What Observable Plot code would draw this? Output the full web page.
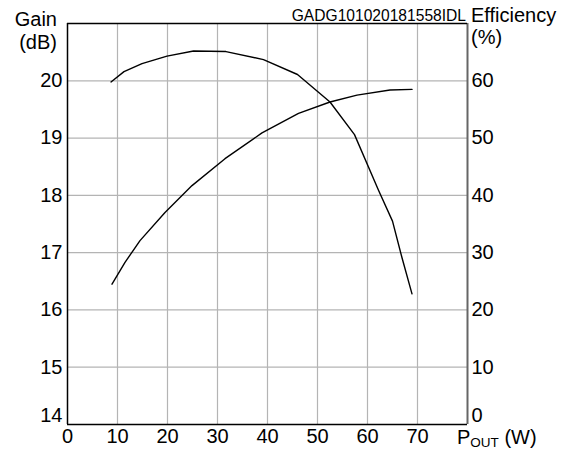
<!DOCTYPE html>
<html>
<head>
<meta charset="utf-8">
<script src="https://cdn.jsdelivr.net/npm/d3@7"></script>
<script src="https://cdn.jsdelivr.net/npm/@observablehq/plot@0.6"></script>
<style>
  html, body { margin: 0; padding: 0; background: #fff; }
  #chart svg { display: block; }
</style>
</head>
<body>
<div id="chart"></div>
<script>
// Gain (dB) vs output power (W)
const gainPower = [8.7, 11.3, 14.9, 19.9, 25.2, 31.7, 39.2, 46.0, 52.5, 57.4, 62.2, 65.0, 66.9, 68.9];
const gainDb    = [19.98, 20.16, 20.30, 20.43, 20.52, 20.51, 20.37, 20.11, 19.63, 19.06, 18.09, 17.55, 16.91, 16.28];
// Efficiency (%) vs output power (W)
const effPower  = [8.9, 11.5, 14.5, 19.5, 24.9, 31.5, 38.9, 46.2, 52.5, 57.9, 64.5, 68.9];
const effPct    = [24.5, 28.3, 32.1, 37.0, 41.7, 46.4, 50.9, 54.3, 56.3, 57.5, 58.4, 58.5];
// Tick labels
const xTicks    = [0, 10, 20, 30, 40, 50, 60, 70];
const gainTicks = [14, 15, 16, 17, 18, 19, 20];
const effTicks  = [0, 10, 20, 30, 40, 50, 60];

const gainData = gainPower.map((p, i) => ({p, v: gainDb[i]}));
const effData  = effPower.map((p, i) => ({p, v: effPct[i]}));
const effToGain = e => 14 + e / 10;

const font = "'Liberation Sans', Arial, sans-serif";
const grid = "#b4b4b4";
const fs = 20;

const chart = Plot.plot({
  width: 566,
  height: 454,
  marginLeft: 67,
  marginRight: 99,
  marginTop: 23,
  marginBottom: 30,
  style: {fontFamily: font, background: "#fff", overflow: "visible"},
  x: {domain: [0, 80], axis: null},
  y: {domain: [14, 21], axis: null},
  marks: [
    Plot.ruleX(xTicks.filter(d => d > 0), {stroke: grid, strokeWidth: 1.2}),
    Plot.ruleY(gainTicks.filter(d => d > 14), {stroke: grid, strokeWidth: 1.2}),
    Plot.line(gainData, {x: "p", y: "v", stroke: "#000", strokeWidth: 1.4}),
    Plot.line(effData, {x: "p", y: d => effToGain(d.v), stroke: "#000", strokeWidth: 1.4}),
    Plot.ruleX([80], {stroke: "#666", strokeWidth: 2}),
    Plot.ruleX([0], {stroke: "#000", strokeWidth: 1.5}),
    Plot.ruleY([14, 21], {stroke: "#000", strokeWidth: 1.5}),
    // left tick labels
    Plot.text(gainTicks.filter(d => d > 14), {y: d => d, text: d => String(d), frameAnchor: "left", textAnchor: "end", lineAnchor: "middle", dx: -5, fontSize: fs, fill: "#000"}),
    Plot.text(gainTicks.filter(d => d === 14), {y: d => d, text: d => String(d), frameAnchor: "left", textAnchor: "end", lineAnchor: "bottom", dx: -5, dy: -3, fontSize: fs, fill: "#000"}),
    // right tick labels
    Plot.text(effTicks.filter(d => d > 0), {y: d => effToGain(d), text: d => String(d), frameAnchor: "right", textAnchor: "start", lineAnchor: "middle", dx: 4, fontSize: fs, fill: "#000"}),
    Plot.text(effTicks.filter(d => d === 0), {y: d => effToGain(d), text: d => String(d), frameAnchor: "right", textAnchor: "start", lineAnchor: "bottom", dx: 4, dy: -3, fontSize: fs, fill: "#000"}),
    // bottom tick labels
    Plot.text(xTicks, {x: d => d, text: d => String(d), frameAnchor: "bottom", textAnchor: "middle", lineAnchor: "top", dy: 4, fontSize: fs, fill: "#000"})
  ]
});

document.getElementById("chart").appendChild(chart);

// axis titles and annotation
const svg = d3.select(chart);
const addText = (x, y, str, size, anchor) =>
  svg.append("text").attr("x", x).attr("y", y).attr("text-anchor", anchor)
    .attr("font-family", font).attr("font-size", size).attr("fill", "#000").text(str);

addText(57, 26, "Gain", fs, "end");
addText(57, 49, "(dB)", fs, "end");
addText(471, 22, "Efficiency", fs, "start");
addText(471, 44, "(%)", fs, "start");
addText(466, 21, "GADG101020181558IDL", 15.6, "end");

const pout = svg.append("text").attr("x", 457).attr("y", 444).attr("text-anchor", "start")
  .attr("font-family", font).attr("font-size", fs).attr("fill", "#000");
pout.append("tspan").text("P");
pout.append("tspan").attr("font-size", 13.5).attr("dy", 3).text("OUT");
pout.append("tspan").attr("dy", -3).text(" (W)");
</script>
</body>
</html>
